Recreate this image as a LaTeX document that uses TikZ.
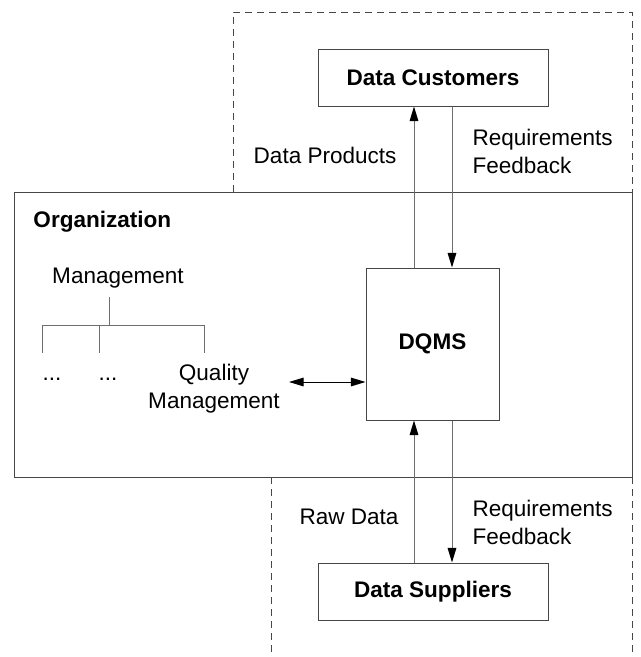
\documentclass[tikz,border=0pt]{standalone}
\usepackage{fontspec}
\setmainfont{Liberation Sans}
\usetikzlibrary{arrows.meta}
\definecolor{shaft}{RGB}{110,110,110}
\definecolor{edge}{RGB}{70,70,70}
\begin{document}
\begin{tikzpicture}[x=0.75pt,y=-0.75pt,
  line width=0.75pt,
  every node/.style={font=\fontsize{16.9}{21}\selectfont, inner sep=0pt},
  box/.style={draw=edge, fill=white, rectangle},
  bl/.style={font=\fontsize{16.9}{21}\selectfont\bfseries},
  arr/.style={draw=shaft, -{Triangle[length=11pt,width=6.5pt,black]}},
  darr/.style={{Triangle[length=11pt,width=6.5pt]}-{Triangle[length=11pt,width=6.5pt]}},
  tree/.style={draw=shaft},
  bnd/.style={draw=edge, dash pattern=on 5pt off 4pt, line width=0.6pt}]
\useasboundingbox (0,0) rectangle (640,657);
% dashed boundaries
\draw[bnd] (233,192) -- (233,12) -- (632,12) -- (632,192);
\draw[bnd] (271,477) -- (271,657);
\draw[bnd] (632,477) -- (632,657);
% boxes
\node[box, minimum width=618*0.75pt, minimum height=285*0.75pt] (org) at (323,334.5) {};
\node[box, minimum width=230*0.75pt, minimum height=57*0.75pt] (cust) at (433,77.5) {};
\node[bl] (custl) at (433,77.5) {Data Customers};
\node[box, minimum width=133*0.75pt, minimum height=152*0.75pt] (dqms) at (432.5,344) {};
\node[bl] (dqmsl) at (432.5,344) {DQMS};
\node[box, minimum width=230*0.75pt, minimum height=57*0.75pt] (supp) at (433,591.5) {};
\node[bl] (suppl) at (433,591.5) {Data Suppliers};
% labels
\node[bl, anchor=west] (orgl) at (33,222) {Organization};
\node (mgmt) at (118,278) {Management};
\node (d1) at (52,379) {...};
\node (d2) at (108,379) {...};
\node[align=center] (qm) at (214,389) {Quality\\Management};
\node[anchor=east] (dp) at (397,155) {Data Products};
\node[align=left, anchor=west] (rf1) at (472,151) {Requirements\\Feedback};
\node[anchor=east] (rd) at (399,517) {Raw Data};
\node[align=left, anchor=west] (rf2) at (472,522) {Requirements\\Feedback};
% tree
\coordinate (t0) at (109,297);
\coordinate (t1) at (109,325);
\coordinate (tl) at (42,325);
\coordinate (tm) at (99,325);
\coordinate (tr) at (204,325);
\draw[tree] (t0) -- (t1);
\draw[tree] (tl) -- (tr);
\draw[tree] (tl) -- ++(0,28);
\draw[tree] (tm) -- ++(0,28);
\draw[tree] (tr) -- ++(0,28);
% arrows
\coordinate (ux) at (414,0);
\coordinate (dx) at (452,0);
\draw[arr] (ux |- dqms.north) -- (ux |- cust.south);
\draw[arr] (dx |- cust.south) -- (dx |- dqms.north);
\draw[arr] (ux |- supp.north) -- (ux |- dqms.south);
\draw[arr] (dx |- dqms.south) -- (dx |- supp.north);
\coordinate (qa) at (289,382);
\draw[darr] (qa) -- (qa -| dqms.west);
\end{tikzpicture}
\end{document}
